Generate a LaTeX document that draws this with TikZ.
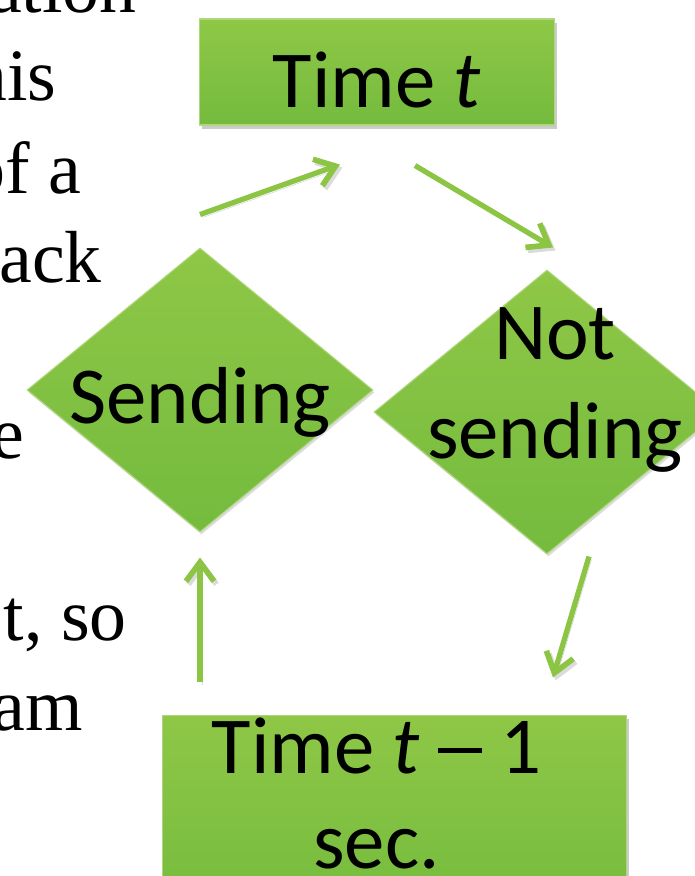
\documentclass[tikz,border=0pt]{standalone}
\usepackage{fontspec}
\setmainfont{Carlito}
\newfontfamily\slidefont{Liberation Serif}
\usetikzlibrary{shapes.geometric,arrows.meta,shadows}
\definecolor{leafgreen}{RGB}{139,197,67}
\definecolor{leaftop}{RGB}{143,199,70}
\definecolor{leafbottom}{RGB}{116,187,62}
\newcommand{\longminus}{\raisebox{0.25em}{\rule{0.54em}{0.065em}}}

\begin{document}
\begin{tikzpicture}[x=0.02cm,y=-0.02cm]
    \tikzstyle{greenbox}=[rectangle, draw=leafgreen!70!white, line width=0.6pt, top color=leaftop, bottom color=leafbottom, inner sep=0pt,
        drop shadow={shadow xshift=0.05cm, shadow yshift=-0.08cm, fill=black!45, opacity=0.45}, font=\fontsize{46}{54}\selectfont];
    \tikzstyle{greendiamond}=[diamond, aspect=1.22, draw=leafgreen!70!white, line width=0.6pt, top color=leaftop, bottom color=leafbottom, inner sep=0pt,
        minimum width=6.92cm, minimum height=5.68cm,
        drop shadow={shadow xshift=0.03cm, shadow yshift=-0.05cm, fill=black!40, opacity=0.35}, font=\fontsize{46}{56}\selectfont];
    \tikzstyle{boxlabel}=[inner sep=0pt, align=center];
    \tikzstyle{flow}=[draw=leafgreen, line width=3pt, -{Straight Barb[length=0.38cm,width=0.56cm,line width=3.2pt]},
        preaction={draw=black!35, opacity=0.4, transform canvas={xshift=0.05cm, yshift=-0.06cm}}];
    \tikzstyle{fragment}=[anchor=base east, inner sep=0pt, font=\slidefont\fontsize{42}{51}\selectfont];

    \useasboundingbox (0,0) rectangle (694,876);

    % cut-off lines of the slide text on the left
    \foreach \y/\x/\txt [count=\i] in {12/137/ation, 100/57/nis, 193/82/{of a}, 282/102/ack, 458/25/e, 640/127/{t, so}, 730/83/am}
        \node[fragment] (frag\i) at (\x,\y) {\txt};

    \node[greenbox, minimum width=7.12cm, minimum height=2.12cm, text height=1.44cm, text depth=0pt] (now) at (377,72) {Time \textit{t}};
    \node[greendiamond, text height=1.36cm, text depth=0pt] (send) at (200,390) {Sending};
    \node[greendiamond, label={[boxlabel, anchor=north, xshift=0.16cm, yshift=-0.76cm, font=\fontsize{46}{56}\selectfont]north:Not\\sending}] (notsend) at (547,412) {};
    \node[greenbox, minimum width=9.3cm, minimum height=4cm,
        label={[boxlabel, anchor=north, xshift=-0.36cm, yshift=-0.06cm, font=\fontsize{46}{54}\selectfont]north:Time \textit{t} \longminus{} 1\\sec.}] (prev) at (394.5,815) {};

    \draw[flow] ([shift={(0,-33)}]send.north) -- ([shift={(-37,39)}]now.south);
    \draw[flow] ([shift={(38,40)}]now.south) -- ([shift={(6,-22)}]notsend.north);
    \draw[flow] ([shift={(42,2)}]notsend.south) -- ([shift={(158.5,-37)}]prev.north);
    \draw[flow] ([shift={(-194.5,-33)}]prev.north) -- ([shift={(0,25)}]send.south);
\end{tikzpicture}
\end{document}
